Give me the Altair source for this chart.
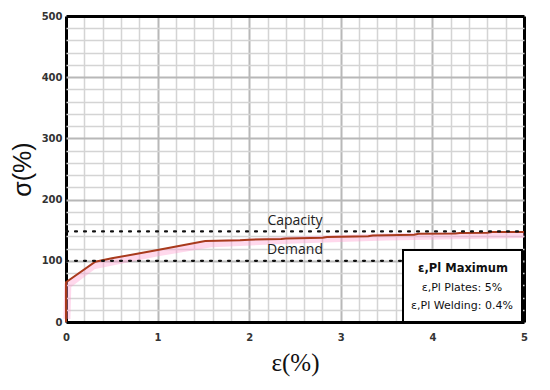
import altair as alt
import pandas as pd

# Stress-strain curve (epsilon %, sigma %)
curve_eps = [0.0, 0.0, 0.32, 0.5, 1.0, 1.52, 1.9, 2.0, 2.35, 2.4, 2.8, 2.85, 3.3, 3.35, 3.8, 3.85, 4.25, 4.3, 4.6, 4.65, 5.0]
curve_sig = [0.0, 65.0, 98.5, 104.0, 117.5, 132.5, 133.5, 134.5, 135.5, 136.5, 137.5, 139.0, 140.0, 141.5, 142.5, 144.0, 144.5, 145.5, 146.0, 147.0, 147.0]

# faint pink band behind the curve
band_eps = [0.01, 0.02, 0.3, 1.0, 1.6, 2.5, 3.5, 5.0]
band_sig = [5.0, 60.0, 92.0, 113.0, 128.0, 134.0, 139.0, 143.0]

# reference levels
level_names = ["Capacity", "Demand"]
level_values = [148.0, 100.0]
level_ends = [5.0, 3.68]

grid_x = [round(0.2 * i, 1) for i in range(26)]
grid_y = [20 * i for i in range(26)]

legend_lines = ["ε,Pl Maximum", "ε,Pl Plates: 5%", "ε,Pl Welding: 0.4%"]

curve = pd.DataFrame({"eps": curve_eps, "sig": curve_sig, "o": range(len(curve_eps))})
band = pd.DataFrame({"eps": band_eps, "sig": band_sig, "o": range(len(band_eps))})
levels = pd.DataFrame({"name": level_names, "y": level_values, "x0": [0.0, 0.0], "x1": level_ends})

W, H = 458, 306
xs = alt.Scale(domain=[0, 5], nice=False, zero=False)
ys = alt.Scale(domain=[0, 500], nice=False)

is_major_x = "abs(round(datum.value) - datum.value) < 1e-6"
is_major_y = "datum.value % 100 === 0"
is_edge_x = "datum.value <= 0.001 || datum.value >= 4.999"
is_edge_y = "datum.value === 0 || datum.value === 500"


def grid_color(edge, major):
    return {"condition": [{"test": edge, "value": "#000000"},
                          {"test": major, "value": "#b8b8b8"}], "value": "#d4d4d4"}


def grid_width(edge, major):
    return {"condition": [{"test": edge, "value": 3},
                          {"test": major, "value": 2}], "value": 1.5}


xaxis = alt.Axis(
    values=grid_x, title="ε(%)", titleFont="Liberation Serif", titleFontSize=25,
    titleFontWeight="normal", titleColor="#111", titlePadding=8,
    labelExpr=f"{is_major_x} ? format(datum.value, 'd') : ''",
    labelFont="DejaVu Sans", labelFontWeight="bold", labelFontSize=10, labelColor="#333",
    labelPadding=10, tickSize=0, domain=False, labelOverlap=False, labelBound=False,
    labelFlush=False,
    gridColor=grid_color(is_edge_x, is_major_x),
    gridWidth=grid_width(is_edge_x, is_major_x),
)
yaxis = alt.Axis(
    values=grid_y, title="σ(%)", titleFont="Liberation Sans", titleFontSize=25,
    titleFontWeight="normal", titleColor="#111", titlePadding=6,
    labelExpr=f"{is_major_y} ? format(datum.value, 'd') : ''",
    labelFont="DejaVu Sans", labelFontWeight="bold", labelFontSize=10, labelColor="#333",
    labelPadding=4, tickSize=0, domain=False, labelOverlap=False, labelBound=False,
    labelFlush=False,
    gridColor=grid_color(is_edge_y, is_major_y),
    gridWidth=grid_width(is_edge_y, is_major_y),
)

X = lambda f: alt.X(f, scale=xs, axis=xaxis)
Y = lambda f: alt.Y(f, scale=ys, axis=yaxis)

band_layer = alt.Chart(band).mark_line(color="#ff9ecf", strokeWidth=7, opacity=0.4).encode(
    x=X("eps:Q"), y=Y("sig:Q"), order="o:Q")

curve_layer = alt.Chart(curve).mark_line(color="#a83a1c", strokeWidth=2).encode(
    x=X("eps:Q"), y=Y("sig:Q"), order="o:Q")

level_layer = alt.Chart(levels).mark_rule(color="#111", strokeWidth=2.2, strokeDash=[2, 7], strokeCap="round").encode(
    x=X("x0:Q"), x2="x1:Q", y=Y("y:Q"))

cap_text = alt.Chart(levels[levels.name == "Capacity"]).mark_text(
    font="Open Sans", fontSize=14, color="#222", dy=-10).encode(
    x=alt.value(229), y=Y("y:Q"), text="name:N")
dem_text = alt.Chart(levels[levels.name == "Demand"]).mark_text(
    font="Open Sans", fontSize=14, color="#222", dy=-11).encode(
    x=alt.value(229), y=Y("y:Q"), text="name:N")

box = alt.Chart(pd.DataFrame({"a": [0]})).mark_rect(fill="white", stroke="black", strokeWidth=2).encode(
    x=alt.value(337), x2=alt.value(456), y=alt.value(234), y2=alt.value(306))

legend_df = pd.DataFrame({"t": legend_lines, "py": [253, 272, 290],
                          "w": ["bold", "normal", "normal"]})
legend_bold = alt.Chart(legend_df[legend_df.w == "bold"]).mark_text(
    font="DejaVu Sans", fontSize=11.5, fontWeight="bold", color="#111").encode(
    x=alt.value(397), y=alt.Y("py:Q", scale=None), text="t:N")
legend_norm = alt.Chart(legend_df[legend_df.w == "normal"]).mark_text(
    font="DejaVu Sans", fontSize=11, color="#111").encode(
    x=alt.value(396), y=alt.Y("py:Q", scale=None), text="t:N")

chart = alt.layer(band_layer, curve_layer, level_layer, cap_text, dem_text, box, legend_bold, legend_norm).properties(
    width=W, height=H,
    autosize=alt.AutoSizeParams(type="none"),
    padding={"left": 58, "top": 8, "right": 10, "bottom": 60},
).configure_view(stroke="black", strokeWidth=2.5).configure(background="white")

chart.save("out.html", embed_options={"renderer": "svg", "actions": False})
